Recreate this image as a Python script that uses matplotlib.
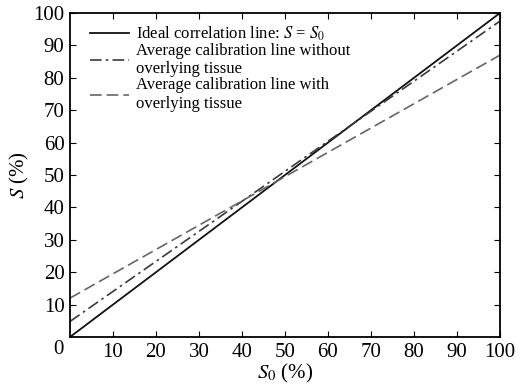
import matplotlib
matplotlib.use('Agg')
import numpy as np
from matplotlib import pyplot as plt

plt.rcParams['font.family'] = ['Liberation Serif', 'DejaVu Serif']
plt.rcParams['mathtext.fontset'] = 'stix'

s0 = [0, 100]
ideal = [0, 100]
no_tissue = [4.8, 97.5]
with_tissue = [12, 87]

labels = ['Ideal correlation line: $S$ = $S_0$',
          'Average calibration line without\noverlying tissue',
          'Average calibration line with\noverlying tissue']

xticks = [10, 20, 30, 40, 50, 60, 70, 80, 90, 100]
yticks = [10, 20, 30, 40, 50, 60, 70, 80, 90, 100]

fig = plt.figure(figsize=(5.29, 3.90), dpi=100)
ax = fig.add_axes([70 / 529, 1 - 337 / 390, 430 / 529, 324 / 390])

ax.plot(s0, ideal, color='#111111', lw=1.3, ls='-', label=labels[0])
ax.plot(s0, no_tissue, color='#3a3a3a', lw=1.2, ls=(0, (7, 2.5, 1.5, 2.5)), label=labels[1])
ax.plot(s0, with_tissue, color='#666666', lw=1.2, ls=(0, (7, 3)), label=labels[2])

ax.set_xlim(0, 100)
ax.set_ylim(0, 100)
ax.set_xticks(xticks)
ax.set_yticks(yticks)
ax.tick_params(direction='in', top=True, right=True, length=4, labelsize=15, pad=4)
for sp in ax.spines.values():
    sp.set_linewidth(1.3)
# single shared origin label at the corner
ax.text(-0.028, -0.04, '0', transform=ax.transAxes, fontsize=15, ha='center', va='center')

ax.set_xlabel('$S_0$ (%)', fontsize=15, labelpad=0)
ax.set_ylabel('$S$ (%)', fontsize=15, labelpad=2)

ax.legend(loc='upper left', bbox_to_anchor=(0.019, 1), frameon=False, fontsize=12,
          handlelength=2.35, handletextpad=0.4, labelspacing=0.0, borderaxespad=0.3)

plt.savefig('out.png', dpi=100)
